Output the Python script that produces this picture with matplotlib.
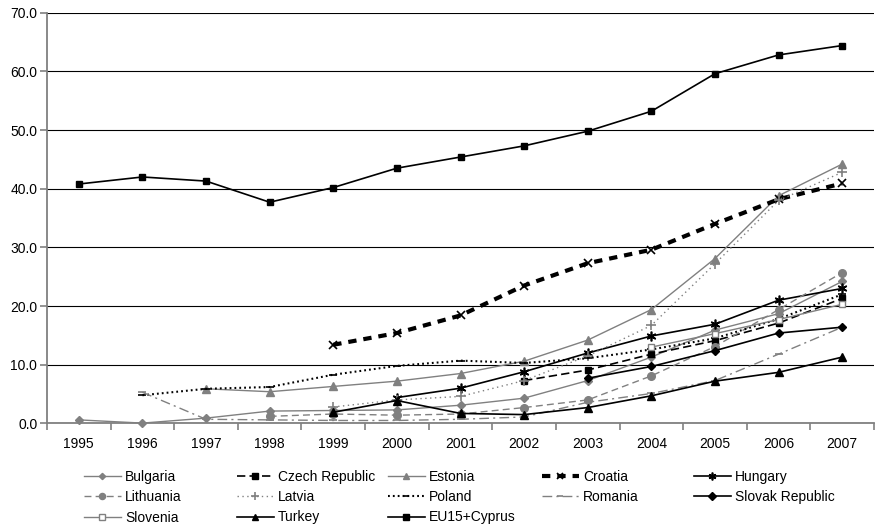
import numpy as np
import matplotlib
matplotlib.use("Agg")
import matplotlib.pyplot as plt

plt.rcParams['font.family'] = ['Liberation Sans', 'DejaVu Sans']
plt.rcParams['font.size'] = 10
plt.rcParams['lines.scale_dashes'] = False

nan = np.nan
years = list(range(1995, 2008))

bulgaria = [0.6, 0.05, 0.9, 2.1, 2.2, 2.3, 3.1, 4.3, 7.3, 11.3, 15.9, 18.7, 24.2]
czech = [nan, nan, nan, nan, nan, nan, nan, 7.3, 9.1, 11.8, 14.1, 17.1, 21.3]
estonia = [nan, nan, 5.9, 5.4, 6.3, 7.2, 8.5, 10.6, 14.2, 19.4, 28.1, 38.8, 44.2]
croatia = [nan, nan, nan, nan, 13.4, 15.4, 18.4, 23.5, 27.3, 29.6, 34.0, 38.2, 40.9]
hungary = [nan, nan, nan, nan, nan, 4.4, 6.0, 8.8, 12.0, 14.9, 16.9, 21.0, 23.0]
lithuania = [nan, nan, nan, 1.2, 1.6, 1.4, 1.6, 2.7, 4.0, 8.1, 13.1, 19.4, 25.7]
latvia = [nan, nan, nan, nan, 2.8, 4.0, 4.6, 7.3, 11.5, 16.7, 27.2, 38.0, 42.8]
poland = [nan, 4.8, 5.9, 6.2, 8.3, 9.8, 10.7, 10.3, 11.1, 12.6, 14.5, 17.8, 22.0]
romania = [nan, 5.3, 0.7, 0.6, 0.5, 0.5, 0.7, 1.1, 3.6, 5.1, 7.3, 11.8, 16.4]
slovak = [nan, nan, nan, nan, nan, nan, nan, nan, 7.7, 9.7, 12.4, 15.4, 16.4]
slovenia = [nan, nan, nan, nan, nan, nan, nan, nan, nan, 13.0, 15.3, 17.7, 20.3]
turkey = [nan, nan, nan, nan, 1.9, 3.9, 1.7, 1.5, 2.7, 4.7, 7.2, 8.7, 11.3]
eu15 = [40.8, 42.0, 41.3, 37.7, 40.2, 43.5, 45.4, 47.3, 49.8, 53.2, 59.6, 62.8, 64.4]

GRAY = "#808080"
BLACK = "#000000"

# name, values, color, dashes, lw, marker, marker face, marker size
series = [
    ("Bulgaria", bulgaria, GRAY, None, 1.0, "D", GRAY, 4),
    ("Czech Republic", czech, BLACK, (6, 3), 1.2, "s", BLACK, 5),
    ("Estonia", estonia, GRAY, None, 1.0, "^", GRAY, 5.5),
    ("Croatia", croatia, BLACK, (6, 5), 3.0, "x", BLACK, 6),
    ("Hungary", hungary, BLACK, None, 1.2, (6, 2, 0), BLACK, 7),
    ("Lithuania", lithuania, GRAY, (5, 3), 1.0, "o", GRAY, 5.5),
    ("Latvia", latvia, GRAY, (1, 2.5), 1.0, "+", GRAY, 7),
    ("Poland", poland, BLACK, (1.3, 2.2), 1.5, "_", BLACK, 6),
    ("Romania", romania, GRAY, (7, 3, 1.5, 3), 1.0, "_", GRAY, 6),
    ("Slovak Republic", slovak, BLACK, None, 1.2, "D", BLACK, 4.5),
    ("Slovenia", slovenia, GRAY, None, 1.0, "s", "white", 5),
    ("Turkey", turkey, BLACK, None, 1.2, "^", BLACK, 5.5),
    ("EU15+Cyprus", eu15, BLACK, None, 1.2, "s", BLACK, 5),
]

fig = plt.figure(figsize=(8.78, 5.31), dpi=100)
ax = fig.add_axes([47 / 878, 1 - 423.4 / 531, 827 / 878, 410.7 / 531])

handles = {}
for name, vals, col, dash, lw, mk, mfc, ms in series:
    kw = dict(color=col, lw=lw, marker=mk, markersize=ms, markerfacecolor=mfc,
              markeredgecolor=col, label=name, clip_on=False)
    if dash is not None:
        kw["dashes"] = dash
    if mk in ("+", "x", "_", (6, 2, 0)):
        kw["markeredgewidth"] = 1.2
    line, = ax.plot(years, vals, **kw)
    handles[name] = line

ax.set_xlim(1994.5, 2007.5)
ax.set_ylim(0, 70)
ax.set_xticks(years)
ax.set_xticklabels([str(y) for y in years])
ax.set_xticks(np.arange(1994.5, 2008, 1.0), minor=True)
ax.tick_params(axis="x", which="major", length=0, pad=10)
ax.tick_params(axis="x", which="minor", length=5, color=GRAY, width=1.2)
ax.set_yticks(np.arange(0, 71, 10))
ax.set_yticklabels([f"{v:.1f}" for v in np.arange(0, 71, 10)])
ax.tick_params(axis="y", length=5, color=GRAY, width=1.2, pad=2)
ax.yaxis.grid(True, color=BLACK, lw=0.8)
ax.set_axisbelow(True)
for s in ("top", "right"):
    ax.spines[s].set_visible(False)
for s in ("left", "bottom"):
    ax.spines[s].set_color(GRAY)
    ax.spines[s].set_linewidth(1.3)

# legend: five columns laid out like the spreadsheet legend
columns = [
    (84, ["Bulgaria", "Lithuania", "Slovenia"]),
    (237, ["Czech Republic", "Latvia", "Turkey"]),
    (388, ["Estonia", "Poland", "EU15+Cyprus"]),
    (542, ["Croatia", "Romania"]),
    (694, ["Hungary", "Slovak Republic"]),
]
for x0, names in columns:
    fig.legend([handles[n] for n in names], names, loc="upper left",
               bbox_to_anchor=(x0 / 878, 1 - 470 / 531), frameon=False,
               borderpad=0, borderaxespad=0, handlelength=2.66,
               handletextpad=0.3, labelspacing=0.45, numpoints=1,
               fontsize=10, markerscale=0.8)

fig.savefig("out.png", dpi=100)
